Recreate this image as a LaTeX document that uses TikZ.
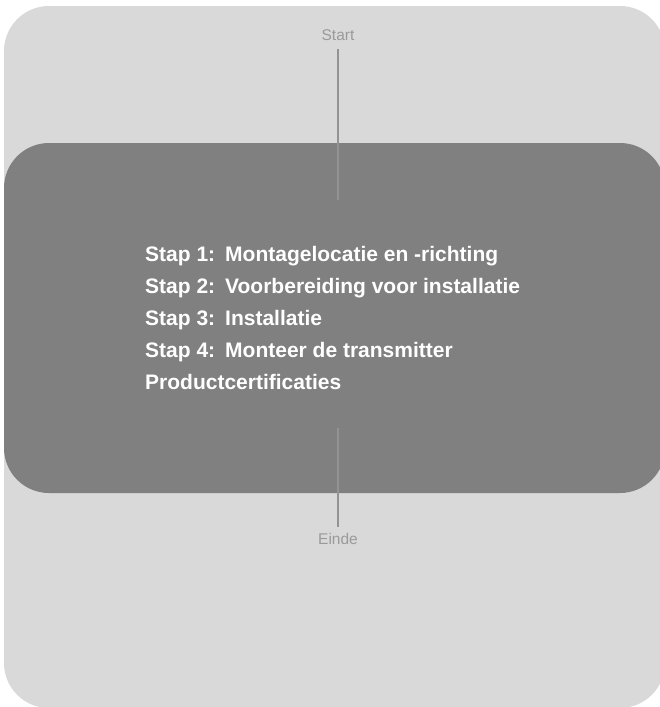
\documentclass[tikz,border=0pt]{standalone}
\usepackage{fontspec}
\setmainfont{Liberation Sans}
\definecolor{lichtgrijs}{HTML}{D9D9D9}
\definecolor{donkergrijs}{HTML}{808080}
\definecolor{lijngrijs}{HTML}{939393}
\definecolor{tekstgrijs}{HTML}{9A9A9A}
\tikzset{
  eindpunt/.style={text=tekstgrijs, font=\fontsize{15.5}{18}\selectfont, inner sep=0pt},
  stapregel/.style={text=white, font=\fontsize{21}{25}\selectfont\bfseries, anchor=base west, inner sep=0pt},
  lijn/.style={lijngrijs, line width=2pt}
}
\begin{document}
\begin{tikzpicture}[x=1pt, y=-1pt]
      \useasboundingbox (0, 0) rectangle (660, 707);
      \clip (0, 0) rectangle (660, 707);

      % Achtergrond
      \fill[lichtgrijs, rounded corners=45pt] (4, 6) rectangle (665, 708);
      \fill[donkergrijs, rounded corners=45pt] (4, 143) rectangle (665, 493);

      % Start en Einde
      \node[eindpunt] (start) at (338, 35) {Start};
      \node[eindpunt] (einde) at (338, 539) {Einde};
      \coordinate (starttop) at (338, 49);
      \coordinate (startbodem) at (338, 200);
      \coordinate (eindetop) at (338, 428);
      \coordinate (eindebodem) at (338, 527);
      \draw[lijn] (starttop) -- (startbodem);
      \draw[lijn] (eindetop) -- (eindebodem);

      % Stappen
      \node[stapregel] (stap1) at (145, 261) {\makebox[80pt][l]{Stap 1:}Montagelocatie en -richting};
      \node[stapregel] (stap2) at (145, 293) {\makebox[80pt][l]{Stap 2:}Voorbereiding voor installatie};
      \node[stapregel] (stap3) at (145, 325) {\makebox[80pt][l]{Stap 3:}Installatie};
      \node[stapregel] (stap4) at (145, 357) {\makebox[80pt][l]{Stap 4:}Monteer de transmitter};
      \node[stapregel] (cert) at (145, 389) {Productcertificaties};
    \end{tikzpicture}
\end{document}
